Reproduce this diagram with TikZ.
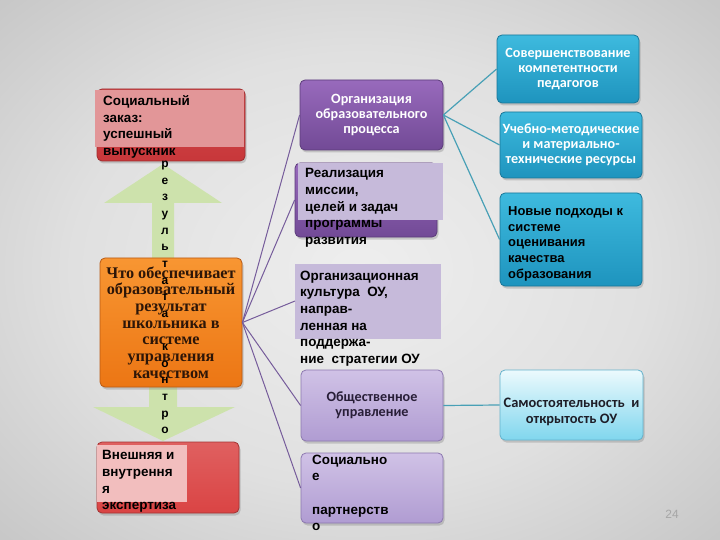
\documentclass[tikz,border=0pt]{standalone}
\usepackage{fontspec}
\setmainfont{Liberation Sans}
\newfontfamily\arialf{Liberation Sans}
\newfontfamily\timesf{Liberation Serif}
\newfontfamily\calf{Carlito}
\usetikzlibrary{shadows}
\definecolor{bgin}{RGB}{238,238,238}
\definecolor{bgmid}{RGB}{224,224,224}
\definecolor{bgedge}{RGB}{176,176,176}
\definecolor{bgout}{RGB}{140,140,140}
\pgfdeclareradialshading{slidebg}{\pgfpoint{0bp}{0bp}}{color(0bp)=(bgin); color(20bp)=(bgmid); color(50bp)=(bgedge); color(72bp)=(bgout); color(100bp)=(bgout)}
\definecolor{redA}{RGB}{200,55,58}
\definecolor{redB}{RGB}{218,68,68}
\definecolor{pinkA}{RGB}{226,150,152}
\definecolor{pinkB}{RGB}{242,190,190}
\definecolor{orgT}{RGB}{248,150,50}
\definecolor{orgB}{RGB}{236,118,20}
\definecolor{orgD}{RGB}{185,90,20}
\definecolor{grn}{RGB}{205,226,172}
\definecolor{purT}{RGB}{152,106,188}
\definecolor{purB}{RGB}{114,74,150}
\definecolor{purD}{RGB}{92,60,122}
\definecolor{lav}{RGB}{198,186,218}
\definecolor{lpT}{RGB}{208,194,230}
\definecolor{lpB}{RGB}{176,156,210}
\definecolor{lpD}{RGB}{140,120,175}
\definecolor{bluT}{RGB}{62,186,222}
\definecolor{bluB}{RGB}{30,148,190}
\definecolor{bluD}{RGB}{25,118,152}
\definecolor{cyT}{RGB}{236,250,253}
\definecolor{cyB}{RGB}{128,214,238}
\definecolor{cyD}{RGB}{100,178,204}
\definecolor{purline}{RGB}{118,92,155}
\definecolor{tealline}{RGB}{72,160,182}
\begin{document}
\begin{tikzpicture}[x=1bp,y=-1bp,
  box/.style={rounded corners=5bp, inner sep=2bp, align=center, line width=0.8bp,
    drop shadow={opacity=0.35, shadow xshift=1.5bp, shadow yshift=-2.5bp}},
  redboxA/.style={box, draw=redA!80!black, top color=redA!90, bottom color=redA},
  redboxB/.style={box, draw=redB!75!black, top color=redB!85, bottom color=redB},
  orbox/.style={box, draw=orgD, top color=orgT, bottom color=orgB, text={rgb,255:red,45;green,22;blue,8},
    font=\timesf\bfseries\fontsize{16.3}{16.7}\selectfont},
  dpbox/.style={box, draw=purD, top color=purT, bottom color=purB, text=white,
    font=\calf\bfseries\fontsize{14.2}{15.5}\selectfont},
  lpbox/.style={box, draw=lpD, top color=lpT, bottom color=lpB, text={rgb,255:red,40;green,30;blue,55},
    font=\calf\bfseries\fontsize{14.2}{15.5}\selectfont},
  blbox/.style={box, draw=bluD, top color=bluT, bottom color=bluB, text=white,
    font=\calf\bfseries\fontsize{14.2}{15}\selectfont},
  cybox/.style={box, draw=cyD, top color=cyT, bottom color=cyB},
  cytext/.style={inner sep=0, align=center, text={rgb,255:red,30;green,30;blue,40},
    font=\calf\bfseries\fontsize{14.5}{16}\selectfont},
  ovtext/.style={anchor=north west, inner sep=0, align=left, text=black,
    font=\arialf\bfseries\fontsize{13.5}{16.7}\selectfont},
  purconn/.style={draw=purline, line width=1bp},
  tealconn/.style={draw=tealline, line width=1.2bp},
  arrowshape/.style={fill=grn, draw=none}]
\useasboundingbox (0,0) rectangle (720,540);
\fill[shading=slidebg] (0,0) rectangle (720,540);

% green arrows
\fill[arrowshape] (163,164) -- (222,203) -- (174,203) -- (174,258) -- (152,258) -- (152,203) -- (104,203) -- cycle;
\fill[arrowshape] (149,385) -- (177,385) -- (177,407) -- (235,407) -- (163,441) -- (93,407) -- (149,407) -- cycle;

% left column boxes
\node[redboxA, minimum width=148bp, minimum height=72bp] (redtop) at (171,125) {};
\node[orbox, minimum width=142bp, minimum height=129bp] (orange) at (171,322.5)
  {Что обеспечивает\\образовательный\\результат\\школьника в\\системе\\управления\\качеством};
\node[anchor=north, inner sep=0, align=center, font=\arialf\bfseries\fontsize{12}{16.7}\selectfont] (vtext) at (165,161)
  {р\\е\\з\\у\\л\\ь\\т\\а\\т\\а\\ \\к\\о\\н\\т\\р\\о};
\node[redboxB, minimum width=142bp, minimum height=71bp] (redbot) at (168,477.5) {};
\fill[pinkA] (95,90) rectangle (244,147);
\fill[pinkB] (97,445) rectangle (187,502);
\node[ovtext] (soctxt) at (103,95.5) {Социальный\\заказ:\\успешный\\выпускник};
\node[ovtext] (exptxt) at (102,450.5) {Внешняя и\\внутрення\\я\\экспертиза};

% middle column
\node[dpbox, minimum width=143bp, minimum height=70bp] (org) at (371.5,115)
  {Организация\\образовательного\\процесса};
\node[dpbox, minimum width=142bp, minimum height=74bp] (real) at (366,200) {};
\fill[lav] (298,163) rectangle (443,220);
\node[ovtext] (realtxt) at (305,168.5) {Реализация\\миссии,\\целей и задач\\программы\\развития};
\fill[lav] (295,264) rectangle (441,339);
\coordinate (cult) at (295,301);
\node[ovtext] (culttxt) at (300,270.5) {Организационная\\культура\ \ ОУ,\\направ-\\ленная на\\поддержа-\\ние\ \ стратегии ОУ};
\node[lpbox, minimum width=142bp, minimum height=71bp] (obsh) at (372,405.5)
  {Общественное\\управление};
\node[lpbox, minimum width=142bp, minimum height=70bp] (socp) at (372,488) {};
\node[ovtext] (socptxt) at (312,454.5) {Социально\\е\\ \\партнерств\\о};

% right column
\node[blbox, minimum width=142bp, minimum height=68bp] (sov) at (568,69)
  {Совершенствование\\компетентности\\педагогов};
\node[blbox, minimum width=142bp, minimum height=66bp] (ucheb) at (571,145)
  {Учебно-методические\\и материально-\\технические ресурсы};
\node[blbox, minimum width=142bp, minimum height=93bp] (nov) at (571,239.5) {};
\node[ovtext, font=\arialf\bfseries\fontsize{13}{16}\selectfont] (novtxt) at (508,206)
  {Новые подходы к\\системе\\оценивания\\качества\\образования};
\node[cybox, minimum width=143bp, minimum height=70bp] (samo) at (571.5,405) {};
\node[cytext] (samotxt) at (571.5,412) {Самостоятельность\ \ и\\открытость ОУ};

% connectors
\draw[purconn] (orange.east) -- (org.west);
\draw[purconn] (orange.east) -- (real.west);
\draw[purconn] (orange.east) -- (cult);
\draw[purconn] (orange.east) -- (obsh.west);
\draw[purconn] (orange.east) -- (socp.west);
\draw[tealconn] (org.east) -- (sov.west);
\draw[tealconn] (org.east) -- (ucheb.west);
\draw[tealconn] (org.east) -- (nov.west);
\draw[tealconn] (obsh.east) -- (samo.west);

\node[text=gray!70!white, font=\arialf\fontsize{12}{14}\selectfont] (pnum) at (672,514) {24};
\end{tikzpicture}
\end{document}
